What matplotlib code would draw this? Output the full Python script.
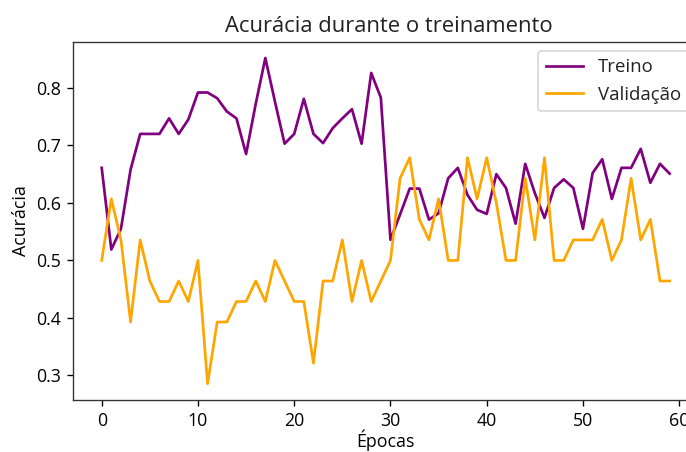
import matplotlib
matplotlib.use("Agg")
import matplotlib.pyplot as plt

epocas = list(range(60))

treino = [0.661, 0.519, 0.555, 0.658, 0.72, 0.72, 0.72, 0.747, 0.72, 0.745,
          0.792, 0.792, 0.782, 0.759, 0.747, 0.685, 0.772, 0.852, 0.776, 0.703,
          0.72, 0.781, 0.72, 0.704, 0.73, 0.747, 0.763, 0.703, 0.826, 0.783,
          0.536, 0.58, 0.625, 0.625, 0.571, 0.582, 0.643, 0.661, 0.614, 0.588,
          0.581, 0.65, 0.626, 0.564, 0.668, 0.617, 0.574, 0.626, 0.641, 0.626,
          0.555, 0.652, 0.676, 0.607, 0.661, 0.661, 0.694, 0.635, 0.668, 0.651]

validacao = [0.5, 0.6071, 0.5357, 0.3929, 0.5357, 0.4643, 0.4286, 0.4286, 0.4643, 0.4286,
             0.5, 0.2857, 0.3929, 0.3929, 0.4286, 0.4286, 0.4643, 0.4286, 0.5, 0.4643,
             0.4286, 0.4286, 0.3214, 0.4643, 0.4643, 0.5357, 0.4286, 0.5, 0.4286, 0.4643,
             0.5, 0.6429, 0.6786, 0.5714, 0.5357, 0.6071, 0.5, 0.5, 0.6786, 0.6071,
             0.6786, 0.6, 0.5, 0.5, 0.6429, 0.5357, 0.6786, 0.5, 0.5, 0.5357,
             0.5357, 0.5357, 0.5714, 0.5, 0.5357, 0.6429, 0.5357, 0.5714, 0.4643, 0.4643]

titulo = "Acurácia durante o treinamento"
rotulo_x = "Épocas"
rotulo_y = "Acurácia"
nomes = ["Treino", "Validação"]

plt.rcParams['font.family'] = ['Open Sans', 'DejaVu Sans']
plt.rcParams['font.size'] = 10.5
plt.rcParams['axes.titlesize'] = 13
plt.rcParams['axes.edgecolor'] = '#333333'
plt.rcParams['text.color'] = '#222222'

DPI = 122
W, H = 686, 452
fig = plt.figure(figsize=(W / DPI, H / DPI), dpi=DPI)
ax = fig.add_axes([73.3 / W, 1 - 400 / H, (698 - 73.3) / W, (400 - 41.7) / H])
ax.plot(epocas, treino, color="purple", label=nomes[0], linewidth=1.6)
ax.plot(epocas, validacao, color="orange", label=nomes[1], linewidth=1.6)
ax.set_title(titulo, x=0.505)
ax.set_xlabel(rotulo_x, labelpad=0)
ax.set_ylabel(rotulo_y)
ax.legend(loc="upper right", fontsize=11)
fig.savefig("out.png", dpi=DPI)
